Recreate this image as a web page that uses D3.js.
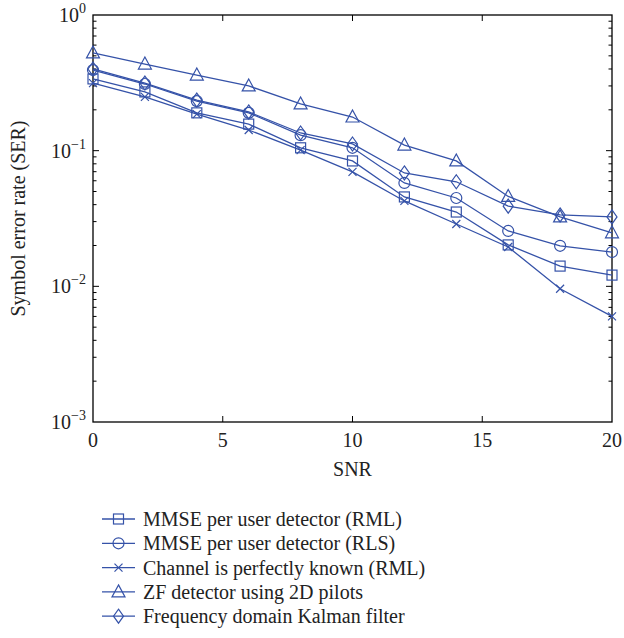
<!DOCTYPE html>
<html>
<head>
<meta charset="utf-8">
<script src="https://cdn.jsdelivr.net/npm/d3@7"></script>
<style>
  body { margin: 0; background: #fff; }
  text { font-family: "Liberation Serif", "DejaVu Serif", serif; fill: #222; }
</style>
</head>
<body>
<svg id="chart" width="624" height="638"></svg>
<script>
// data
var snr = [0, 2, 4, 6, 8, 10, 12, 14, 16, 18, 20];
var serRML   = [0.338, 0.271, 0.190, 0.157, 0.105, 0.084, 0.0456, 0.0353, 0.0202, 0.0141, 0.0121];
var serRLS   = [0.393, 0.310, 0.232, 0.190, 0.130, 0.105, 0.0578, 0.0448, 0.0256, 0.0199, 0.0179];
var serKnown = [0.315, 0.249, 0.186, 0.142, 0.101, 0.0697, 0.0426, 0.0288, 0.0195, 0.0096, 0.0060];
var serZF    = [0.525, 0.435, 0.361, 0.300, 0.221, 0.177, 0.110, 0.084, 0.046, 0.0325, 0.0248];
var serKal   = [0.400, 0.315, 0.236, 0.193, 0.135, 0.112, 0.0685, 0.059, 0.039, 0.0336, 0.0325];
var xTicks = [0, 5, 10, 15, 20];
var yExps = [0, -1, -2, -3];

var series = [
  { name: "MMSE per user detector (RML)", values: serRML, marker: "square" },
  { name: "MMSE per user detector (RLS)", values: serRLS, marker: "circle" },
  { name: "Channel is perfectly known (RML)", values: serKnown, marker: "cross" },
  { name: "ZF detector using 2D pilots", values: serZF, marker: "triangle" },
  { name: "Frequency domain Kalman filter", values: serKal, marker: "diamond" }
];

var blue = "#3552a8";
var svg = d3.select("#chart");
var pLeft = 93, pRight = 612, pTop = 15, pBottom = 422;

var x = d3.scaleLinear().domain([0, 20]).range([pLeft, pRight]);
var y = d3.scaleLog().domain([1e-3, 1]).range([pBottom, pTop]);

// ticks
var tk = svg.append("g").attr("stroke", "#000").attr("stroke-width", 1);
xTicks.forEach(function(t) {
  if (t == 0 || t == 20) return;
  tk.append("line").attr("x1", x(t)).attr("x2", x(t)).attr("y1", pBottom).attr("y2", pBottom - 6);
  tk.append("line").attr("x1", x(t)).attr("x2", x(t)).attr("y1", pTop).attr("y2", pTop + 6);
});
for (var e = -3; e < 0; e++) {
  for (var m = 1; m <= 9; m++) {
    var v = m * Math.pow(10, e);
    if (m == 1 && e == -3) continue;
    var len = m == 1 ? 6 : 3.5;
    tk.append("line").attr("x1", pLeft).attr("x2", pLeft + len).attr("y1", y(v)).attr("y2", y(v));
    tk.append("line").attr("x1", pRight).attr("x2", pRight - len).attr("y1", y(v)).attr("y2", y(v));
  }
}

svg.append("rect").attr("x", pLeft).attr("y", pTop)
  .attr("width", pRight - pLeft).attr("height", pBottom - pTop)
  .attr("fill", "none").attr("stroke", "#000").attr("stroke-width", 1.3);

// tick labels
xTicks.forEach(function(t) {
  svg.append("text").attr("x", x(t)).attr("y", 447)
    .attr("text-anchor", "middle").attr("font-size", 20).text(t);
});
yExps.forEach(function(p) {
  var t = svg.append("text").attr("x", 86).attr("y", y(Math.pow(10, p)) + 7)
    .attr("text-anchor", "end").attr("font-size", 20);
  t.append("tspan").text("10");
  t.append("tspan").attr("dy", -9).attr("font-size", 14).text((p < 0 ? "\u2212" : "") + Math.abs(p));
});

svg.append("text").attr("x", (pLeft + pRight) / 2).attr("y", 476)
  .attr("text-anchor", "middle").attr("font-size", 20).text("SNR");
svg.append("text").attr("transform", "translate(25," + ((pTop + pBottom) / 2) + ") rotate(-90)")
  .attr("text-anchor", "middle").attr("font-size", 20).text("Symbol error rate (SER)");

function drawMarker(g, type, cx, cy) {
  var s = g.append("g").attr("transform", "translate(" + cx + "," + cy + ")")
    .attr("fill", "none").attr("stroke", blue).attr("stroke-width", 1.2);
  if (type == "square") s.append("rect").attr("x", -5).attr("y", -5).attr("width", 10).attr("height", 10);
  if (type == "circle") s.append("circle").attr("r", 5.5);
  if (type == "cross") s.append("path").attr("d", "M-4,-4L4,4M-4,4L4,-4");
  if (type == "triangle") s.append("path").attr("d", "M0,-7L6.5,5L-6.5,5Z");
  if (type == "diamond") s.append("path").attr("d", "M0,-7L5,0L0,7L-5,0Z");
}

var line = d3.line().x(function(d, i) { return x(snr[i]); }).y(function(d) { return y(d); });
var plot = svg.append("g");
series.forEach(function(s) {
  plot.append("path").datum(s.values).attr("d", line)
    .attr("fill", "none").attr("stroke", blue).attr("stroke-width", 1.3);
  s.values.forEach(function(v, i) { drawMarker(plot, s.marker, x(snr[i]), y(v)); });
});

// legend
var lg = svg.append("g");
series.forEach(function(s, i) {
  var ly = 519 + i * 24.3;
  lg.append("line").attr("x1", 102).attr("x2", 135).attr("y1", ly).attr("y2", ly)
    .attr("stroke", blue).attr("stroke-width", 1.3);
  drawMarker(lg, s.marker, 118.5, ly);
  lg.append("text").attr("x", 143).attr("y", ly + 7).attr("font-size", 20).text(s.name);
});
</script>
</body>
</html>
